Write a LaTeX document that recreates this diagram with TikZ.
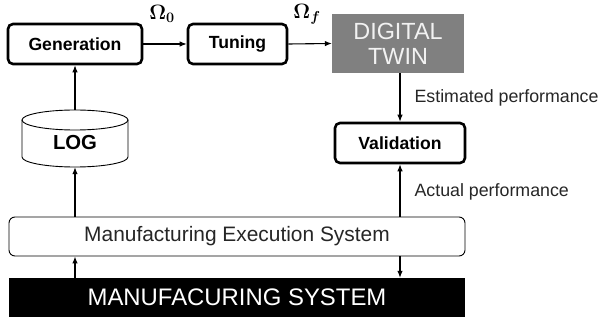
\documentclass[tikz,border=0pt]{standalone}
\usepackage[no-math]{fontspec}
\setmainfont{Liberation Sans}
\usepackage{amsmath,bm}
\usetikzlibrary{arrows.meta}

\tikzset{
  stagebox/.style={draw,line width=2.6pt,rounded corners=5pt,minimum height=40pt,
    font=\fontsize{17.6}{20}\selectfont\bfseries,inner sep=0pt},
  widebox/.style={minimum width=456pt,minimum height=39pt,inner sep=0pt},
  flow/.style={-{Latex[length=7pt,width=5.5pt]},line width=1.1pt},
  perflabel/.style={anchor=west,font=\fontsize{17.8}{20}\selectfont,text=black!85},
  omlabel/.style={font=\fontsize{20}{24}\selectfont}
}

\begin{document}
\begin{tikzpicture}[x=1pt,y=-1pt]
\useasboundingbox (0,0) rectangle (601,320);

% upper chain
\node[stagebox,minimum width=134pt] (gen) at (75,44) {Generation};
\node[stagebox,minimum width=99pt] (tun) at (237.5,44) {Tuning};
\node[fill=black!50,text=black!5,minimum width=132pt,minimum height=59pt,inner sep=0pt,
  align=center,font=\fontsize{23.4}{25}\selectfont] (dt) at (398,43.5) {DIGITAL\\TWIN};
\node[stagebox,minimum width=130pt] (val) at (400,143) {Validation};

\node[omlabel] (om0) at (162,14) {$\bm{\Omega_0}$};
\node[omlabel] (omf) at (307,14) {$\bm{\Omega_f}$};

% log cylinder
\node[minimum width=106pt,minimum height=57pt,inner sep=0pt] (log) at (75,138.5) {};
\draw[line width=0.9pt,fill=white] (22,120) -- (22,157) arc[start angle=180,end angle=360,x radius=53,y radius=-10]
  -- (128,120);
\draw[line width=0.9pt] (75,120) ellipse[x radius=53,y radius=10];
\node[font=\fontsize{20.3}{22}\selectfont\bfseries] (logtext) at (75,143) {LOG};

% bottom layers
\node[widebox,draw,line width=0.9pt,rounded corners=6pt,
  font=\fontsize{20.9}{23}\selectfont,text=black!85] (mes) at (237,236.5) {Manufacturing Execution System};
\node[widebox,fill=black,text=white,font=\fontsize{23.9}{26}\selectfont] (ms) at (237,297.5) {MANUFACURING SYSTEM};

% connectors
\draw[flow] (gen.east) -- (tun.west);
\draw[flow] (tun.east) -- (dt.west);
\draw[flow] (dt.south -| val.north) -- (val.north);
\draw[flow] (log.north) -- (log.north |- gen.south);
\draw[flow] (log.south |- mes.north) -- (log.south);
\draw[flow] (val.south |- mes.north) -- (val.south);
\draw[flow] (log.south |- ms.north) -- (log.south |- mes.south);
\draw[flow] (val.south |- mes.south) -- (val.south |- ms.north);

\node[perflabel] (est) at (411,98) {Estimated performance};
\node[perflabel] (act) at (411,192) {Actual performance};

\end{tikzpicture}
\end{document}
